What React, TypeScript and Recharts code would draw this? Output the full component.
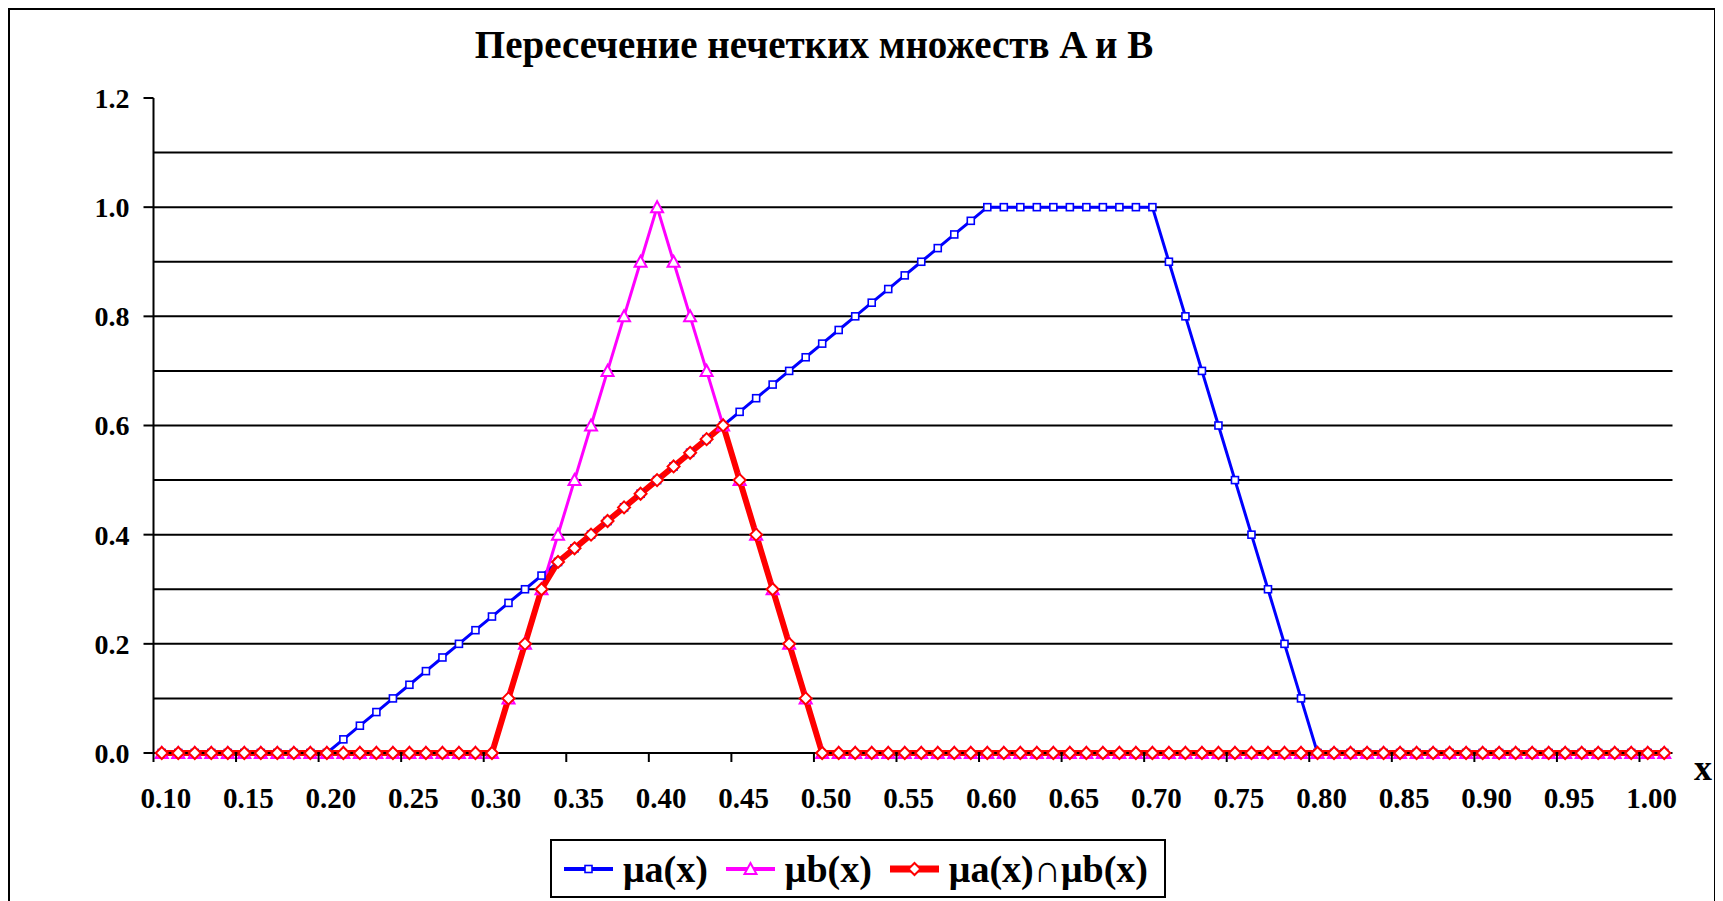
import { LineChart, Line, XAxis, YAxis, CartesianGrid } from 'recharts';

const xLabels = [
  '0.10', '0.11', '0.12', '0.13', '0.14', '0.15', '0.16', '0.17', '0.18', '0.19',
  '0.20', '0.21', '0.22', '0.23', '0.24', '0.25', '0.26', '0.27', '0.28', '0.29',
  '0.30', '0.31', '0.32', '0.33', '0.34', '0.35', '0.36', '0.37', '0.38', '0.39',
  '0.40', '0.41', '0.42', '0.43', '0.44', '0.45', '0.46', '0.47', '0.48', '0.49',
  '0.50', '0.51', '0.52', '0.53', '0.54', '0.55', '0.56', '0.57', '0.58', '0.59',
  '0.60', '0.61', '0.62', '0.63', '0.64', '0.65', '0.66', '0.67', '0.68', '0.69',
  '0.70', '0.71', '0.72', '0.73', '0.74', '0.75', '0.76', '0.77', '0.78', '0.79',
  '0.80', '0.81', '0.82', '0.83', '0.84', '0.85', '0.86', '0.87', '0.88', '0.89',
  '0.90', '0.91', '0.92', '0.93', '0.94', '0.95', '0.96', '0.97', '0.98', '0.99',
  '1.00', '1.01',
];

// μa(x)
const muA = [
  0, 0, 0, 0, 0, 0, 0, 0, 0, 0, 0,
  0.025, 0.05, 0.075, 0.1, 0.125, 0.15, 0.175, 0.2, 0.225, 0.25,
  0.275, 0.3, 0.325, 0.35, 0.375, 0.4, 0.425, 0.45, 0.475, 0.5,
  0.525, 0.55, 0.575, 0.6, 0.625, 0.65, 0.675, 0.7, 0.725, 0.75,
  0.775, 0.8, 0.825, 0.85, 0.875, 0.9, 0.925, 0.95, 0.975, 1,
  1, 1, 1, 1, 1, 1, 1, 1, 1, 1,
  0.9, 0.8, 0.7, 0.6, 0.5, 0.4, 0.3, 0.2, 0.1, 0,
  0, 0, 0, 0, 0, 0, 0, 0, 0, 0,
  0, 0, 0, 0, 0, 0, 0, 0, 0, 0,
  0,
];

// μb(x)
const muB = [
  0, 0, 0, 0, 0, 0, 0, 0, 0, 0, 0,
  0, 0, 0, 0, 0, 0, 0, 0, 0, 0,
  0.1, 0.2, 0.3, 0.4, 0.5, 0.6, 0.7, 0.8, 0.9, 1,
  0.9, 0.8, 0.7, 0.6, 0.5, 0.4, 0.3, 0.2, 0.1, 0,
  0, 0, 0, 0, 0, 0, 0, 0, 0, 0,
  0, 0, 0, 0, 0, 0, 0, 0, 0, 0,
  0, 0, 0, 0, 0, 0, 0, 0, 0, 0,
  0, 0, 0, 0, 0, 0, 0, 0, 0, 0,
  0, 0, 0, 0, 0, 0, 0, 0, 0, 0,
  0,
];

// μa(x)∩μb(x)
const muAB = [
  0, 0, 0, 0, 0, 0, 0, 0, 0, 0, 0,
  0, 0, 0, 0, 0, 0, 0, 0, 0, 0,
  0.1, 0.2, 0.3, 0.35, 0.375, 0.4, 0.425, 0.45, 0.475, 0.5,
  0.525, 0.55, 0.575, 0.6, 0.5, 0.4, 0.3, 0.2, 0.1, 0,
  0, 0, 0, 0, 0, 0, 0, 0, 0, 0,
  0, 0, 0, 0, 0, 0, 0, 0, 0, 0,
  0, 0, 0, 0, 0, 0, 0, 0, 0, 0,
  0, 0, 0, 0, 0, 0, 0, 0, 0, 0,
  0, 0, 0, 0, 0, 0, 0, 0, 0, 0,
  0,
];

const yTicks = [0, 0.2, 0.4, 0.6, 0.8, 1.0, 1.2];
const gridValues = [0.1, 0.2, 0.3, 0.4, 0.5, 0.6, 0.7, 0.8, 0.9, 1.0, 1.1];

const data = xLabels.map((x, i) => ({ x, a: muA[i], b: muB[i], ab: muAB[i] }));

const FONT = '"Liberation Serif", "Times New Roman", serif';
const PLOT_W = 1519;
const HALF = PLOT_W / (2 * xLabels.length);

const BLUE = '#0000ff';
const MAGENTA = '#ff00ff';
const RED = '#ff0000';

const squareDot = (p: any) => (
  <rect key={p.index} x={p.cx - 3.5} y={p.cy - 3.5} width={7} height={7} fill="#fff" stroke={BLUE} strokeWidth={1.6} />
);

const triangleDot = (p: any) => (
  <polygon
    key={p.index}
    points={`${p.cx},${p.cy - 6} ${p.cx - 6},${p.cy + 5} ${p.cx + 6},${p.cy + 5}`}
    fill="#fff"
    stroke={MAGENTA}
    strokeWidth={2}
  />
);

const diamondDot = (p: any) => (
  <polygon
    key={p.index}
    points={`${p.cx},${p.cy - 6} ${p.cx + 6},${p.cy} ${p.cx},${p.cy + 6} ${p.cx - 6},${p.cy}`}
    fill="#fff"
    stroke={RED}
    strokeWidth={2}
  />
);

// excel-style category ticks: mark on the boundary, label on the category
const XTick = ({ x, y, payload }: any) => (
  <g>
    <line x1={x - HALF} x2={x - HALF} y1={y} y2={y + 9} stroke="#000" strokeWidth={2} />
    <text x={x + 4} y={y + 55} textAnchor="middle" fontSize={29} fontWeight={700} fontFamily={FONT} fill="#000">
      {payload.value}
    </text>
  </g>
);

function LegendItem({ color, width, label, marker }: { color: string; width: number; label: string; marker: string }) {
  return (
    <div style={{ display: 'flex', alignItems: 'center' }}>
      <svg width={49} height={20} style={{ marginRight: 10 }}>
        <line x1={0} x2={49} y1={10} y2={10} stroke={color} strokeWidth={width} />
        {marker === 'square' && squareDot({ cx: 24.5, cy: 10, index: 0 })}
        {marker === 'triangle' && triangleDot({ cx: 24.5, cy: 10, index: 0 })}
        {marker === 'diamond' && diamondDot({ cx: 24.5, cy: 10, index: 0 })}
      </svg>
      <span>{label}</span>
    </div>
  );
}

export default function App() {
  return (
    <div
      style={{
        position: 'relative',
        width: 1708,
        height: 893,
        border: '2px solid #000',
        borderBottom: 'none',
        boxSizing: 'border-box',
        fontFamily: FONT,
        background: '#fff',
      }}
    >
      <style>{'html,body{overflow:hidden}'}</style>
      <div
        style={{
          position: 'absolute',
          left: 804,
          top: 15,
          transform: 'translateX(-50%)',
          whiteSpace: 'nowrap',
          fontSize: 39,
          lineHeight: '39px',
          fontWeight: 700,
        }}
      >
        Пересечение нечетких множеств A и B
      </div>

      <LineChart width={1704} height={880} data={data} margin={{ top: 88, right: 41.5, bottom: 77, left: 0 }}>
        <CartesianGrid vertical={false} horizontalValues={gridValues} stroke="#000" strokeWidth={2} />
        <XAxis
          dataKey="x"
          interval={4}
          padding={{ left: HALF, right: HALF }}
          tickSize={0}
          tickMargin={0}
          tickLine={false}
          axisLine={{ stroke: '#000', strokeWidth: 2 }}
          tick={<XTick />}
          height={60}
        />
        <XAxis xAxisId="top" dataKey="x" orientation="top" height={0} tick={false} tickLine={false} axisLine={{ stroke: '#808080', strokeWidth: 2 }} />
        <YAxis
          domain={[0, 1.2]}
          ticks={yTicks}
          tickFormatter={(v: number) => v.toFixed(1)}
          tick={{ fill: '#000', fontSize: 28, fontWeight: 700, fontFamily: FONT }}
          tickSize={10}
          tickMargin={14}
          axisLine={{ stroke: '#000', strokeWidth: 2 }}
          tickLine={{ stroke: '#000', strokeWidth: 2 }}
          width={143.5}
        />
        <YAxis yAxisId="r" orientation="right" domain={[0, 1.2]} width={0} tick={false} tickLine={false} axisLine={{ stroke: '#808080', strokeWidth: 2 }} />
        <Line type="linear" dataKey="a" name="μa(x)" stroke={BLUE} strokeWidth={3} dot={squareDot} activeDot={false} isAnimationActive={false} />
        <Line type="linear" dataKey="b" name="μb(x)" stroke={MAGENTA} strokeWidth={3} dot={triangleDot} activeDot={false} isAnimationActive={false} />
        <Line type="linear" dataKey="ab" name="μa(x)∩μb(x)" stroke={RED} strokeWidth={6} dot={diamondDot} activeDot={false} isAnimationActive={false} />
      </LineChart>

      <div
        style={{
          position: 'absolute',
          left: 1693,
          top: 740,
          transform: 'translateX(-50%)',
          fontSize: 36,
          lineHeight: '36px',
          fontWeight: 700,
        }}
      >
        x
      </div>

      <div
        style={{
          position: 'absolute',
          left: 540,
          top: 829,
          width: 616,
          height: 59,
          border: '2px solid #000',
          boxSizing: 'border-box',
          display: 'flex',
          alignItems: 'center',
          gap: 18,
          paddingLeft: 12,
          fontSize: 38,
          fontWeight: 700,
          whiteSpace: 'nowrap',
        }}
      >
        <LegendItem color={BLUE} width={4} label="μa(x)" marker="square" />
        <LegendItem color={MAGENTA} width={4} label="μb(x)" marker="triangle" />
        <LegendItem color={RED} width={7} label="μa(x)∩μb(x)" marker="diamond" />
      </div>
    </div>
  );
}
